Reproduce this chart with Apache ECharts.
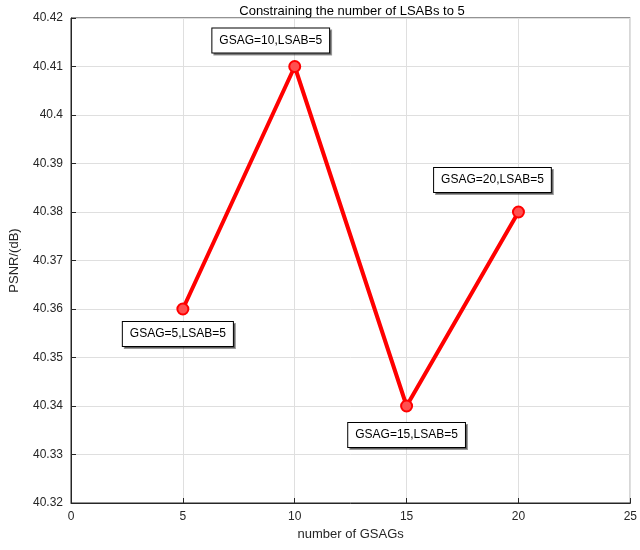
<!DOCTYPE html>
<html>
<head>
<meta charset="utf-8">
<script src="https://cdn.jsdelivr.net/npm/echarts@6/dist/echarts.min.js"></script>
<style>html,body{margin:0;padding:0;background:#fff}#main{width:640px;height:550px}</style>
</head>
<body>
<div id="main"></div>
<script>
var gsags = [5, 10, 15, 20];
var psnr = [40.36, 40.41, 40.34, 40.38];
var labels = ['GSAG=5,LSAB=5', 'GSAG=10,LSAB=5', 'GSAG=15,LSAB=5', 'GSAG=20,LSAB=5'];
var labelOffsets = [[-5, 25], [-24, -26], [0, 29], [-26, -32]];

var myChart = echarts.init(document.getElementById('main'));
var points = [];
for (var i = 0; i < gsags.length; i++) {
  points.push({
    value: [gsags[i], psnr[i]],
    label: {
      show: true, position: 'inside', offset: labelOffsets[i],
      formatter: labels[i], color: '#000', fontSize: 12,
      fontFamily: 'Liberation Sans, Arial',
      backgroundColor: '#fff', borderColor: '#000', borderWidth: 1,
      padding: [6, 7], shadowColor: 'rgba(0,0,0,0.4)', shadowOffsetX: 2, shadowOffsetY: 2
    }
  });
}
var axisText = {color: '#262626', fontSize: 12, fontFamily: 'Liberation Sans, Arial'};
var option = {
  animation: false,
  title: {
    text: 'Constraining the number of LSABs to 5', left: 347, top: 0, textAlign: 'center',
    textStyle: {fontSize: 13, fontWeight: 'normal', color: '#000', fontFamily: 'Liberation Sans, Arial'}
  },
  grid: {left: 55, right: 6, top: 18, bottom: 47, show: true, borderColor: '#262626', borderWidth: 1},
  xAxis: {
    type: 'value', min: 0, max: 25, interval: 5,
    name: 'number of GSAGs', nameLocation: 'middle', nameGap: 25,
    nameTextStyle: {fontSize: 13, color: '#262626', fontFamily: 'Liberation Sans, Arial'},
    axisLine: {lineStyle: {color: '#262626'}},
    axisTick: {inside: true, lineStyle: {color: '#262626'}},
    axisLabel: axisText,
    splitLine: {lineStyle: {color: '#dfdfdf'}}
  },
  yAxis: {
    type: 'value', min: 40.32, max: 40.42, interval: 0.01,
    name: 'PSNR/(dB)', nameLocation: 'middle', nameGap: 50,
    nameTextStyle: {fontSize: 13, color: '#262626', fontFamily: 'Liberation Sans, Arial'},
    axisLine: {lineStyle: {color: '#262626'}},
    axisTick: {inside: true, lineStyle: {color: '#262626'}},
    axisLabel: {color: '#262626', fontSize: 12, fontFamily: 'Liberation Sans, Arial',
      formatter: function (v) { return String(parseFloat(v.toFixed(2))); }},
    splitLine: {lineStyle: {color: '#dfdfdf'}}
  },
  series: [{
    type: 'line', data: points,
    symbol: 'circle', symbolSize: 11,
    lineStyle: {color: '#ff0000', width: 4},
    itemStyle: {color: '#ff5050', borderColor: '#ff0000', borderWidth: 2}
  }]
};
myChart.setOption(option);
</script>
</body>
</html>
